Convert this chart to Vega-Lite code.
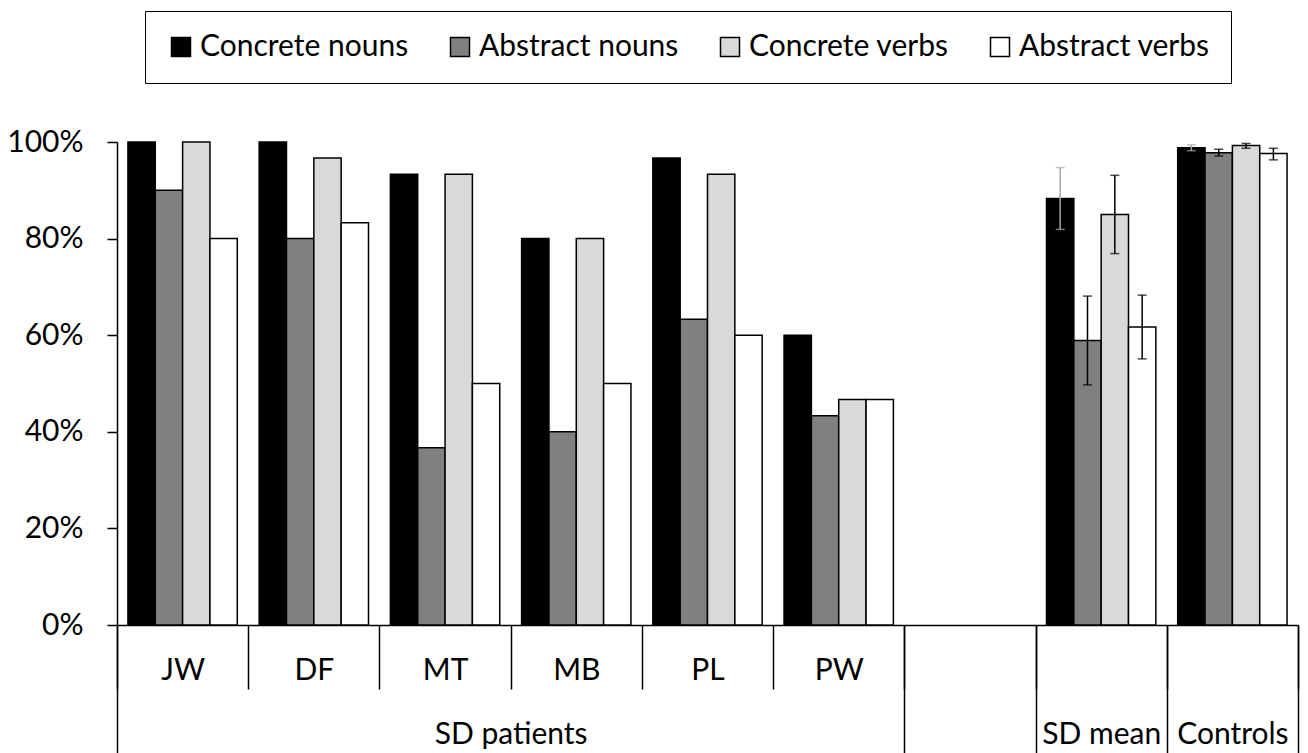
{
  "$schema": "https://vega.github.io/schema/vega-lite/v6.json",
  "width": 1181,
  "height": 483,
  "autosize": {"type": "none"},
  "padding": {"left": 117, "top": 142, "right": 10, "bottom": 128},
  "background": "white",
  "config": {"view": {"stroke": null}, "font": "Lato"},
  "data": {"values": [
    {"cat": "JW", "var": "Concrete nouns", "value": 1.0},
    {"cat": "JW", "var": "Abstract nouns", "value": 0.9},
    {"cat": "JW", "var": "Concrete verbs", "value": 1.0},
    {"cat": "JW", "var": "Abstract verbs", "value": 0.8},
    {"cat": "DF", "var": "Concrete nouns", "value": 1.0},
    {"cat": "DF", "var": "Abstract nouns", "value": 0.8},
    {"cat": "DF", "var": "Concrete verbs", "value": 0.967},
    {"cat": "DF", "var": "Abstract verbs", "value": 0.833},
    {"cat": "MT", "var": "Concrete nouns", "value": 0.933},
    {"cat": "MT", "var": "Abstract nouns", "value": 0.367},
    {"cat": "MT", "var": "Concrete verbs", "value": 0.933},
    {"cat": "MT", "var": "Abstract verbs", "value": 0.5},
    {"cat": "MB", "var": "Concrete nouns", "value": 0.8},
    {"cat": "MB", "var": "Abstract nouns", "value": 0.4},
    {"cat": "MB", "var": "Concrete verbs", "value": 0.8},
    {"cat": "MB", "var": "Abstract verbs", "value": 0.5},
    {"cat": "PL", "var": "Concrete nouns", "value": 0.967},
    {"cat": "PL", "var": "Abstract nouns", "value": 0.633},
    {"cat": "PL", "var": "Concrete verbs", "value": 0.933},
    {"cat": "PL", "var": "Abstract verbs", "value": 0.6},
    {"cat": "PW", "var": "Concrete nouns", "value": 0.6},
    {"cat": "PW", "var": "Abstract nouns", "value": 0.433},
    {"cat": "PW", "var": "Concrete verbs", "value": 0.467},
    {"cat": "PW", "var": "Abstract verbs", "value": 0.467},
    {"cat": "SD mean", "var": "Concrete nouns", "value": 0.883, "lo": 0.819, "hi": 0.947},
    {"cat": "SD mean", "var": "Abstract nouns", "value": 0.589, "lo": 0.497, "hi": 0.681},
    {"cat": "SD mean", "var": "Concrete verbs", "value": 0.85, "lo": 0.769, "hi": 0.931},
    {"cat": "SD mean", "var": "Abstract verbs", "value": 0.617, "lo": 0.551, "hi": 0.683},
    {"cat": "Controls", "var": "Concrete nouns", "value": 0.988, "lo": 0.982, "hi": 0.994},
    {"cat": "Controls", "var": "Abstract nouns", "value": 0.978, "lo": 0.971, "hi": 0.985},
    {"cat": "Controls", "var": "Concrete verbs", "value": 0.993, "lo": 0.987, "hi": 0.997},
    {"cat": "Controls", "var": "Abstract verbs", "value": 0.976, "lo": 0.963, "hi": 0.987}
  ]},
  "resolve": {"axis": {"x": "independent"}},
  "layer": [
    {
      "mark": {"type": "bar", "stroke": "black", "strokeWidth": 1.5},
      "encoding": {
        "x": {
          "field": "cat", "type": "nominal", "sort": null,
          "scale": {"domain": ["JW", "DF", "MT", "MB", "PL", "PW", " ", "SD mean", "Controls"], "paddingInner": 0, "paddingOuter": 0},
          "axis": {
            "title": null, "orient": "bottom", "tickBand": "extent", "tickSize": 64, "tickWidth": 1.5, "tickColor": "black",
            "domainColor": "black", "domainWidth": 1.5, "labelAngle": 0, "labelFont": "Lato", "labelFontSize": 30,
            "labelColor": "black", "labelPadding": -34,
            "labelExpr": "indexof(['JW','DF','MT','MB','PL','PW'], datum.value) >= 0 ? datum.label : ''"
          }
        },
        "xOffset": {
          "field": "var", "type": "nominal", "sort": null,
          "scale": {"domain": ["Concrete nouns", "Abstract nouns", "Concrete verbs", "Abstract verbs"], "paddingInner": 0, "paddingOuter": 0.4}
        },
        "y": {
          "field": "value", "type": "quantitative",
          "scale": {"domain": [0, 1], "nice": false},
          "axis": {
            "title": null, "values": [0, 0.2, 0.4, 0.6, 0.8, 1], "format": ".0%", "grid": false,
            "domainColor": "black", "domainWidth": 1.5, "tickColor": "black", "tickWidth": 1.5, "tickSize": 10,
            "labelFont": "Lato", "labelFontSize": 30, "labelColor": "black", "labelPadding": 24
          }
        },
        "fill": {
          "field": "var", "type": "nominal", "sort": null,
          "scale": {"domain": ["Concrete nouns", "Abstract nouns", "Concrete verbs", "Abstract verbs"], "range": ["#000000", "#808080", "#d9d9d9", "#ffffff"]},
          "legend": {
            "title": null, "orient": "none", "legendX": 28, "legendY": -131, "direction": "horizontal", "columns": 4,
            "symbolType": "square", "symbolSize": 361, "symbolStrokeColor": "black", "symbolStrokeWidth": 1.5,
            "labelFont": "Lato", "labelFontSize": 30, "labelColor": "black", "labelOffset": 4, "labelLimit": 400,
            "columnPadding": 36, "padding": 21, "strokeColor": "black", "fillColor": "white"
          }
        }
      }
    },
    {
      "transform": [{"filter": "isValid(datum.lo)"}],
      "mark": {"type": "rule", "strokeWidth": 1.5},
      "encoding": {
        "x": {
          "field": "cat", "type": "nominal", "sort": null,
          "scale": {"domain": ["JW", "DF", "MT", "MB", "PL", "PW", " ", "SD mean", "Controls"], "paddingInner": 0, "paddingOuter": 0},
          "axis": {
            "title": null, "orient": "bottom", "tickBand": "extent", "values": ["JW", "PW", " ", "SD mean", "Controls"],
            "tickSize": 130, "tickWidth": 1.5, "tickColor": "black", "domain": false,
            "tickOpacity": {"condition": {"test": "datum.value === 'JW'", "value": 0}, "value": 1},
            "labelAngle": 0, "labelFont": "Lato", "labelFontSize": 30, "labelColor": "black", "labelPadding": -36,
            "labelOffset": {"condition": {"test": "datum.value === 'JW'", "value": 328}, "value": 0},
            "labelExpr": "datum.value === 'JW' ? 'SD patients' : (datum.value === 'SD mean' || datum.value === 'Controls' ? datum.label : '')"
          }
        },
        "xOffset": {"field": "var", "type": "nominal", "sort": null},
        "y": {"field": "lo", "type": "quantitative"},
        "y2": {"field": "hi"},
        "color": {"condition": {"test": "datum['var'] === 'Concrete nouns'", "value": "#a6a6a6"}, "value": "black"}
      }
    },
    {
      "transform": [{"filter": "isValid(datum.lo)"}, {"fold": ["lo", "hi"], "as": ["end", "ev"]}],
      "mark": {"type": "tick", "orient": "horizontal", "size": 9, "thickness": 1.5},
      "encoding": {
        "x": {"field": "cat", "type": "nominal", "sort": null, "axis": null},
        "xOffset": {"field": "var", "type": "nominal", "sort": null},
        "y": {"field": "ev", "type": "quantitative"},
        "color": {"condition": {"test": "datum['var'] === 'Concrete nouns'", "value": "#a6a6a6"}, "value": "black"}
      }
    }
  ]
}
